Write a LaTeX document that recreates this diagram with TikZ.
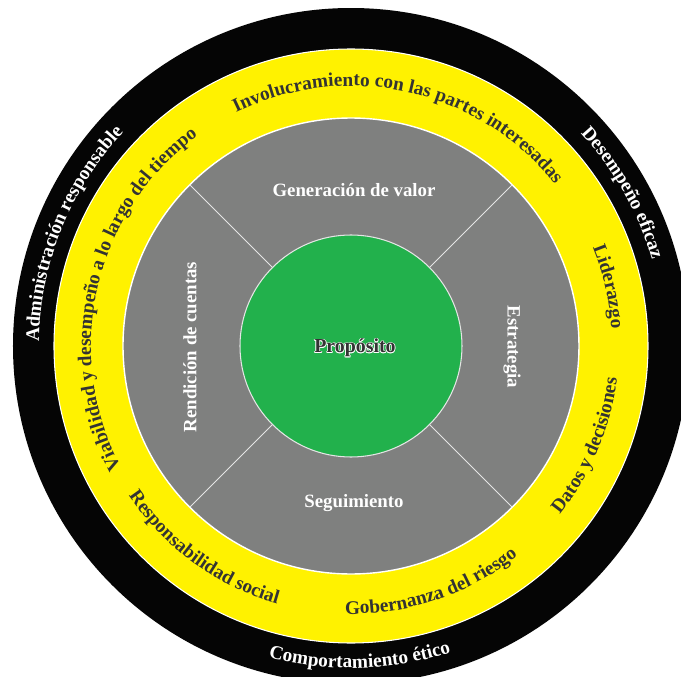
\documentclass[tikz,border=0pt]{standalone}
\usepackage{fontspec}
\setmainfont{Liberation Serif}
\usetikzlibrary{decorations.text}
\definecolor{ringblack}{HTML}{050505}
\definecolor{ringyellow}{HTML}{FFF200}
\definecolor{ringgray}{HTML}{7F807F}
\definecolor{coregreen}{HTML}{22B14C}
\definecolor{darktext}{HTML}{333333}
\newcommand\ringfont{\fontsize{11}{13}\selectfont\bfseries}
\begin{document}
\begin{tikzpicture}[x=0.02cm,y=0.02cm,
ring/.style={
% The shape:
draw=white,
line width=0.6pt
},
divider/.style={draw=white!80!gray,line width=0.6pt},
sector/.style={text=white,font=\fontsize{10.7}{12}\selectfont\bfseries},
core/.style={text=darktext,font=\fontsize{11.3}{13}\selectfont\bfseries},
halo/.style={core,text=white},
arctext/.style={decorate,decoration={text along path,text align=center,text={#1}}}
]
\clip (-351,-331) rectangle (330,346);
\fill[white] (-351,-331) rectangle (330,346);
% rings
\fill[ringblack] (0,0) circle (338);
\filldraw[ring,fill=ringyellow] (0,0) circle (297);
\filldraw[ring,fill=ringgray,line width=0.8pt] (0,0) circle (228);
\foreach \a in {45,135,225,315}
  \draw[divider] (\a:111) -- (\a:228);
\filldraw[ring,fill=coregreen,draw=white!80!gray] (0,0) circle (111);
% sectors
\node[sector] (valor) at (3,156) {Generación de valor};
\node[sector] (seguim) at (3,-157) {Seguimiento};
\node[sector,rotate=90] (cuentas) at (-161,-1) {Rendición de cuentas};
\node[sector,rotate=-90] (estrat) at (161,-1) {Estrategia};
% centre
\foreach \a [count=\i] in {0,45,...,315}
  \node[halo] (halo\i) at ([shift={(\a:0.7)}] 4,-2) {Propósito};
\node[core] (proposito) at (4,-2) {Propósito};
% yellow ring
\path[arctext={|\ringfont\color{darktext}|Involucramiento con las partes interesadas}]
  (167.3:260) arc[start angle=167.3,end angle=-12.7,radius=260];
\path[arctext={|\ringfont\color{darktext}|Viabilidad y desempeño a lo largo del tiempo}]
  (257:260) arc[start angle=257,end angle=77,radius=260];
\path[arctext={|\ringfont\color{darktext}|Liderazgo}]
  (103:261) arc[start angle=103,end angle=-77,radius=261];
\path[arctext={|\ringfont\color{darktext}|Datos y decisiones}]
  (-112.9:268) arc[start angle=-112.9,end angle=67.1,radius=268];
\path[arctext={|\ringfont\color{darktext}|Gobernanza del riesgo}]
  (-161.4:268) arc[start angle=-161.4,end angle=18.6,radius=268];
\path[arctext={|\ringfont\color{darktext}|Responsabilidad social}]
  (-216:268) arc[start angle=-216,end angle=-36,radius=268];
% black ring
\path[arctext={|\ringfont\color{white}|Administración responsable}]
  (248:312) arc[start angle=248,end angle=68,radius=312];
\path[arctext={|\ringfont\color{white}|Desempeño eficaz}]
  (119.4:313) arc[start angle=119.4,end angle=-60.6,radius=313];
\path[arctext={|\ringfont\color{white}|Comportamiento ético}]
  (-178.4:322) arc[start angle=-178.4,end angle=1.6,radius=322];
\end{tikzpicture}
\end{document}
